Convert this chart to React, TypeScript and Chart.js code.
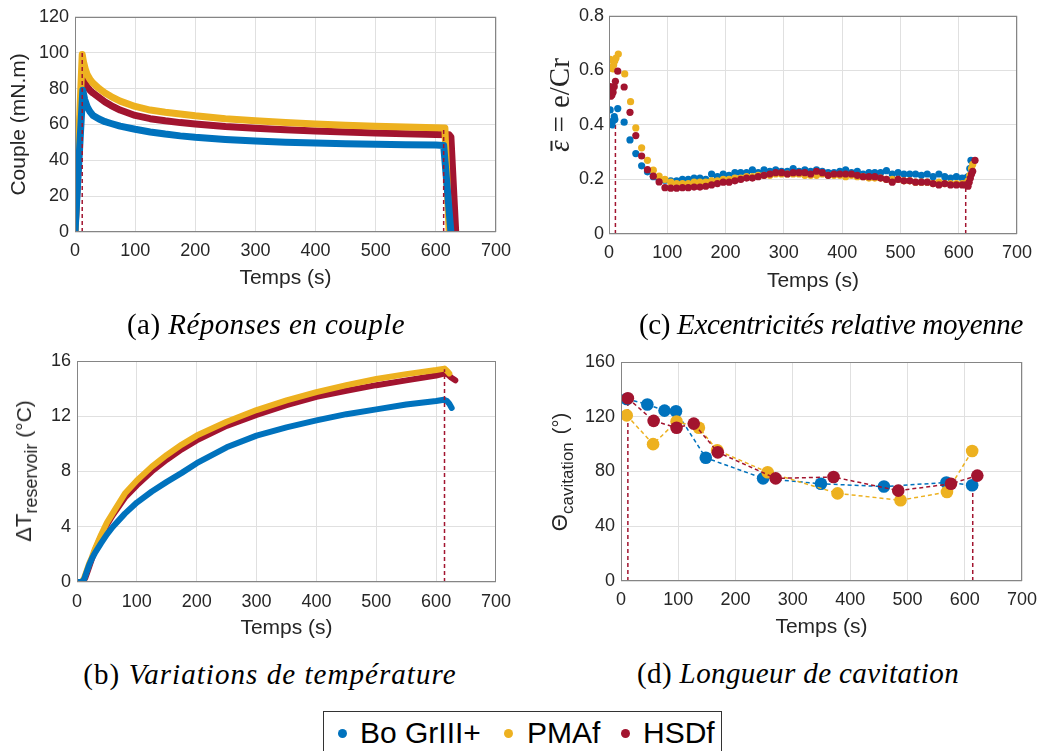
import React, { useEffect, useRef } from "react";
import { Chart, registerables } from "chart.js";

Chart.register(...registerables);

// ---------- series / styling ----------
const SERIES = ["Bo GrIII+", "PMAf", "HSDf"];
const BLUE = "#0072BD";
const YELLOW = "#EDB120";
const RED = "#A2142F";
const COLORS = [BLUE, YELLOW, RED];

// ---------- (a) couple ----------
const aBoT = [0, 13, 16, 20, 25, 30, 40, 50, 60, 75, 100, 125, 150, 175, 200, 250, 300, 350, 400, 450, 500, 550, 600, 613, 625];
const aBoV = [0, 79, 74, 70, 67, 65, 63, 61.5, 60.5, 59, 57.3, 55.8, 54.6, 53.6, 52.8, 51.6, 50.7, 50.1, 49.6, 49.2, 48.9, 48.7, 48.5, 48.3, 0];
const aPmT = [0, 12, 14, 17, 20, 25, 30, 40, 50, 60, 75, 100, 125, 150, 175, 200, 250, 300, 350, 400, 450, 500, 550, 600, 615, 622];
const aPmV = [0, 99, 95, 91, 88, 85, 83, 80, 77.5, 75.5, 73, 70, 68, 66.8, 65.8, 64.8, 63.2, 62, 61, 60.2, 59.5, 59, 58.6, 58.2, 58, 0];
const aHsT = [0, 12, 14, 17, 20, 25, 30, 40, 50, 60, 75, 100, 125, 150, 175, 200, 250, 300, 350, 400, 450, 500, 550, 600, 622, 625, 633];
const aHsV = [0, 86, 85, 83, 81, 79, 77.5, 75, 72.5, 70.5, 68, 65, 63.2, 62, 61, 60.2, 58.8, 57.8, 57, 56.3, 55.7, 55.2, 54.8, 54.4, 54.2, 53, 0];
const aMarkT = [12, 613];
const aMarkV = [100, 58];

// ---------- (b) temperature ----------
const bBoT = [0, 8, 12, 16, 20, 25, 30, 40, 50, 60, 80, 100, 125, 150, 175, 200, 250, 300, 350, 400, 450, 500, 550, 600, 613, 618, 622, 626];
const bBoV = [0, 0, 0.2, 0.7, 1.2, 1.7, 2.1, 2.8, 3.45, 4.0, 4.95, 5.75, 6.55, 7.25, 7.9, 8.6, 9.75, 10.6, 11.2, 11.7, 12.15, 12.5, 12.85, 13.1, 13.2, 13.1, 12.9, 12.6];
const bPmT = [0, 8, 12, 16, 20, 25, 30, 40, 50, 60, 80, 100, 125, 150, 175, 200, 250, 300, 350, 400, 450, 500, 550, 600, 614, 618, 622];
const bPmV = [0, 0, 0.3, 0.8, 1.3, 1.8, 2.4, 3.4, 4.3, 5.0, 6.4, 7.35, 8.35, 9.2, 9.95, 10.6, 11.6, 12.45, 13.15, 13.75, 14.25, 14.7, 15.05, 15.35, 15.45, 15.3, 15.1];
const bHsT = [0, 10, 14, 18, 22, 26, 30, 40, 50, 60, 80, 100, 125, 150, 175, 200, 250, 300, 350, 400, 450, 500, 550, 600, 615, 620, 625, 632];
const bHsV = [0, 0, 0.3, 0.8, 1.3, 1.8, 2.3, 3.3, 4.15, 4.85, 6.1, 7.0, 8.0, 8.85, 9.6, 10.25, 11.3, 12.1, 12.8, 13.4, 13.85, 14.25, 14.6, 14.95, 15.1, 15.0, 14.8, 14.6];
const bMarkT = [614];
const bMarkV = [15.4];

// ---------- (c) eccentricity ----------
const cMidT = [106, 116, 126, 136, 146, 156, 166, 176, 186, 196, 206, 216, 226, 236, 246, 256, 266, 276, 286, 296, 306, 316, 326, 336, 346, 356, 366, 376, 386, 396, 406, 416, 426, 436, 446, 456, 466, 476, 486, 496, 506, 516, 526, 536, 546, 556, 566, 576, 586, 596, 606];
const cBoT = [2, 4, 5, 7, 9, 10, 15, 26, 36, 46, 56, 66, 76, 86, 96, ...cMidT, 612, 616, 619, 621];
const cBoV = [0.455, 0.41, 0.40, 0.415, 0.43, 0.42, 0.46, 0.41, 0.345, 0.295, 0.25, 0.228, 0.21, 0.20, 0.197,
  0.195, 0.195, 0.2, 0.2, 0.205, 0.205, 0.2, 0.22, 0.21, 0.22,
  0.215, 0.225, 0.225, 0.225, 0.235, 0.225, 0.235, 0.23, 0.235, 0.23,
  0.23, 0.24, 0.23, 0.235, 0.23, 0.235, 0.23, 0.225, 0.225, 0.23,
  0.235, 0.225, 0.23, 0.22, 0.225, 0.225, 0.225, 0.232, 0.22, 0.225,
  0.22, 0.22, 0.22, 0.215, 0.22, 0.21, 0.22, 0.21, 0.205, 0.21,
  0.205, 0.205, 0.21, 0.24, 0.27];
const cPmT = [2, 4, 6, 8, 10, 12, 16, 27, 37, 46, 56, 66, 76, 86, 96, ...cMidT, 612, 616, 619, 622, 624];
const cPmV = [0.64, 0.61, 0.605, 0.62, 0.635, 0.645, 0.66, 0.587, 0.485, 0.389, 0.316, 0.27, 0.234, 0.212, 0.2,
  0.19, 0.185, 0.185, 0.185, 0.19, 0.19, 0.19, 0.195, 0.195, 0.2,
  0.2, 0.205, 0.205, 0.21, 0.21, 0.215, 0.215, 0.215, 0.22, 0.22,
  0.22, 0.22, 0.22, 0.215, 0.215, 0.215, 0.22, 0.215, 0.215, 0.215,
  0.21, 0.215, 0.21, 0.21, 0.205, 0.205, 0.205, 0.2, 0.2, 0.2,
  0.195, 0.195, 0.19, 0.19, 0.19, 0.185, 0.19, 0.185, 0.185, 0.185,
  0.185, 0.185, 0.195, 0.215, 0.24, 0.255];
const cHsT = [2, 3, 5, 7, 9, 11, 15, 26, 36, 46, 56, 66, 76, 86, 96, ...cMidT, 612, 616, 618, 620, 622, 624, 628];
const cHsV = [0.54, 0.505, 0.51, 0.52, 0.54, 0.56, 0.597, 0.539, 0.446, 0.361, 0.286, 0.236, 0.212, 0.191, 0.17,
  0.168, 0.168, 0.17, 0.17, 0.172, 0.172, 0.175, 0.18, 0.185, 0.19,
  0.19, 0.195, 0.2, 0.205, 0.205, 0.21, 0.215, 0.22, 0.225, 0.225,
  0.22, 0.225, 0.225, 0.225, 0.22, 0.23, 0.225, 0.215, 0.22, 0.22,
  0.22, 0.22, 0.215, 0.21, 0.21, 0.21, 0.205, 0.2, 0.19, 0.2,
  0.195, 0.195, 0.19, 0.19, 0.19, 0.185, 0.18, 0.185, 0.18, 0.18,
  0.18, 0.18, 0.175, 0.19, 0.205, 0.22, 0.23, 0.27];
const cMarkT = [11, 612];
const cMarkV = [0.41, 0.175];

// ---------- (d) cavitation ----------
const dBoT = [10, 46, 76, 96, 148, 248, 349, 459, 568, 613];
const dBoV = [133, 129, 124.5, 124, 90, 75, 71, 69, 72, 70];
const dPmT = [10, 56, 97, 136, 168, 256, 378, 488, 569, 613];
const dPmV = [121, 100, 116.5, 112, 95.5, 79.5, 64, 59, 65, 95];
const dHsT = [12, 57, 97, 127, 169, 270, 371, 484, 576, 622];
const dHsV = [133.5, 117, 112, 115, 94, 75, 76, 66, 71, 77];
const dMarkT = [12, 614];
const dMarkV = [133, 70];

// ---------- texts ----------
const X_TITLE = "Temps (s)";
const A_Y_TITLE = "Couple (mN.m)";
const CAPTIONS = [
  ["(a)", "Réponses en couple"],
  ["(b)", "Variations de température"],
  ["(c)", "Excentricités relative moyenne"],
  ["(d)", "Longueur de cavitation"],
];

// ---------- helpers ----------
const SANS = "'Liberation Sans', Arial, Helvetica, sans-serif";
const SERIF = "'Liberation Serif', 'Times New Roman', serif";
const TXT = "#262626";
const GRID = "#e0e0e0";
const tickFont = { family: SANS, size: 18 };
const titleFont = { family: SANS, size: 21 };

const pts = (t: number[], v: number[]) => t.map((x, i) => ({ x, y: v[i] }));

const boxPlugin = {
  id: "axesBox",
  afterDatasetsDraw(chart: any) {
    const { ctx, chartArea } = chart;
    const l = Math.round(chartArea.left) + 0.5;
    const t = Math.round(chartArea.top) + 0.5;
    const r = Math.round(chartArea.right) - 0.5;
    const b = Math.round(chartArea.bottom) - 0.5;
    ctx.save();
    ctx.strokeStyle = "#858585";
    ctx.lineWidth = 1;
    ctx.strokeRect(l, t, r - l, b - t);
    ctx.restore();
  },
};

function xAxis(h: number, tickPad: number, titlePad: number) {
  return {
    type: "linear",
    min: 0,
    max: 700,
    afterFit: (s: any) => {
      s.height = h;
    },
    grid: { color: GRID, drawTicks: false },
    border: { display: false },
    ticks: { stepSize: 100, font: tickFont, color: TXT, padding: tickPad, maxRotation: 0, autoSkip: false },
    title: { display: true, text: X_TITLE, font: titleFont, color: TXT, padding: { top: 0, bottom: titlePad } },
  };
}

function yAxis(w: number, max: number, step: number, tickPad: number, title?: string) {
  return {
    type: "linear",
    min: 0,
    max,
    afterFit: (s: any) => {
      s.width = w;
    },
    grid: { color: GRID, drawTicks: false },
    border: { display: false },
    ticks: { stepSize: step, font: tickFont, color: TXT, padding: tickPad, autoSkip: false },
    title: title
      ? { display: true, text: title, font: titleFont, color: TXT, padding: { top: 7, bottom: 0 } }
      : { display: false },
  };
}

function thickLine(i: number, t: number[], v: number[], width: number, order: number) {
  return {
    label: SERIES[i],
    data: pts(t, v),
    showLine: true,
    borderColor: COLORS[i],
    backgroundColor: COLORS[i],
    borderWidth: width,
    borderCapStyle: "round",
    borderJoinStyle: "round",
    pointRadius: 0,
    order,
  };
}

function dotSeries(i: number, t: number[], v: number[], radius: number, order: number, dashed: boolean) {
  return {
    label: SERIES[i],
    data: pts(t, v),
    showLine: dashed,
    borderColor: COLORS[i],
    backgroundColor: COLORS[i],
    borderWidth: 1.5,
    borderDash: [4, 3],
    pointRadius: radius,
    pointBorderWidth: 0,
    pointBackgroundColor: COLORS[i],
    order,
  };
}

function markLines(t: number[], v: number[], order: number) {
  return t.map((x, i) => ({
    label: "marker",
    data: [
      { x, y: 0 },
      { x, y: v[i] },
    ],
    showLine: true,
    borderColor: RED,
    borderWidth: 1.5,
    borderDash: [4, 3],
    pointRadius: 0,
    order,
  }));
}

function makeChart(canvas: HTMLCanvasElement, datasets: any[], x: any, y: any, padding: any) {
  return new Chart(canvas, {
    type: "scatter",
    data: { datasets },
    options: {
      animation: false,
      responsive: false,
      maintainAspectRatio: false,
      events: [],
      layout: { padding },
      plugins: { legend: { display: false }, tooltip: { enabled: false } },
      scales: { x, y },
    } as any,
    plugins: [boxPlugin],
  } as any);
}

function Caption({ cx, baseline, tag, text, spacing }: { cx: number; baseline: number; tag: string; text: string; spacing: number }) {
  const size = 29;
  return (
    <div
      style={{
        position: "absolute",
        left: cx - 300,
        width: 600,
        top: baseline - 0.8375 * size,
        textAlign: "center",
        fontFamily: SERIF,
        fontSize: size,
        lineHeight: 1,
        letterSpacing: spacing,
        whiteSpace: "nowrap",
        color: "#000",
      }}
    >
      {tag} <span style={{ fontStyle: "italic" }}>{text}</span>
    </div>
  );
}

function RotLabel({ cx, cy, children, family, size }: any) {
  return (
    <div
      style={{
        position: "absolute",
        left: cx,
        top: cy,
        transform: "translate(-50%, -50%) rotate(-90deg)",
        whiteSpace: "nowrap",
        lineHeight: 1,
        fontFamily: family,
        fontSize: size,
        color: TXT,
      }}
    >
      {children}
    </div>
  );
}

export default function App() {
  const ra = useRef<HTMLCanvasElement>(null);
  const rb = useRef<HTMLCanvasElement>(null);
  const rc = useRef<HTMLCanvasElement>(null);
  const rd = useRef<HTMLCanvasElement>(null);

  useEffect(() => {
    const charts: Chart[] = [];
    charts.push(
      makeChart(
        ra.current!,
        [
          thickLine(0, aBoT, aBoV, 7, 1),
          thickLine(1, aPmT, aPmV, 7, 2),
          thickLine(2, aHsT, aHsV, 7, 3),
          ...markLines(aMarkT, aMarkV, 0),
        ],
        xAxis(68, 8, 9),
        yAxis(75, 120, 20, 6, A_Y_TITLE),
        { left: 0, right: 24, top: 14, bottom: 0 }
      )
    );
    charts.push(
      makeChart(
        rb.current!,
        [
          thickLine(0, bBoT, bBoV, 6, 1),
          thickLine(1, bPmT, bPmV, 6, 2),
          thickLine(2, bHsT, bHsV, 6, 3),
          ...markLines(bMarkT, bMarkV, 0),
        ],
        xAxis(63, 9, 4),
        yAxis(77, 16, 4, 6),
        { left: 0, right: 19, top: 21, bottom: 0 }
      )
    );
    charts.push(
      makeChart(
        rc.current!,
        [
          dotSeries(0, cBoT, cBoV, 3.6, 3, false),
          dotSeries(1, cPmT, cPmV, 3.6, 2, false),
          dotSeries(2, cHsT, cHsV, 3.6, 1, false),
          ...markLines(cMarkT, cMarkV, 4),
        ],
        xAxis(66, 8, 6),
        yAxis(89, 0.8, 0.2, 5),
        { left: 0, right: 47, top: 14, bottom: 0 }
      )
    );
    charts.push(
      makeChart(
        rd.current!,
        [
          dotSeries(0, dBoT, dBoV, 6.3, 3, true),
          dotSeries(1, dPmT, dPmV, 6.3, 2, true),
          dotSeries(2, dHsT, dHsV, 6.3, 1, true),
          ...markLines(dMarkT, dMarkV, 4),
        ],
        xAxis(64, 8, 5),
        yAxis(101, 160, 40, 6),
        { left: 0, right: 42, top: 22, bottom: 0 }
      )
    );
    return () => charts.forEach((c) => c.destroy());
  }, []);

  const cv = (left: number, top: number, w: number, h: number) => ({
    position: "absolute" as const,
    left,
    top,
    width: w,
    height: h,
  });

  return (
    <div
      style={{
        position: "absolute",
        left: 0,
        top: 0,
        width: 1064,
        height: 751,
        overflow: "hidden",
        background: "#fff",
      }}
    >
      <canvas ref={ra} width={520} height={300} style={cv(0, 0, 520, 300)} />
      <canvas ref={rc} width={544} height={300} style={cv(520, 0, 544, 300)} />
      <canvas ref={rb} width={520} height={305} style={cv(0, 340, 520, 305)} />
      <canvas ref={rd} width={544} height={305} style={cv(520, 340, 544, 305)} />

      {/* y titles with math / subscripts */}
      <RotLabel cx={559} cy={105} family={SERIF} size={29}>
        <span style={{ position: "relative", display: "inline-block", fontStyle: "italic" }}>
          {"\u03B5"}
          <span
            style={{
              position: "absolute",
              left: 1,
              right: 0,
              top: 6,
              height: 1.5,
              background: TXT,
            }}
          />
        </span>
        <span style={{ margin: "0 8px" }}>=</span>
        <span>e/Cr</span>
      </RotLabel>
      <RotLabel cx={24} cy={471} family={SANS} size={22}>
        <span style={{ fontSize: 22 }}>ΔT</span>
        <span style={{ fontSize: 18, position: "relative", top: 6 }}>reservoir</span>
        <span style={{ fontSize: 21 }}> (°C)</span>
      </RotLabel>
      <RotLabel cx={560} cy={472} family={SANS} size={22}>
        <span style={{ fontSize: 22 }}>Θ</span>
        <span style={{ fontSize: 17, position: "relative", top: 6 }}>cavitation</span>
        <span style={{ fontSize: 20, marginLeft: 8 }}>(°)</span>
      </RotLabel>

      {/* captions */}
      <Caption cx={266} baseline={334} tag={CAPTIONS[0][0]} text={CAPTIONS[0][1]} spacing={0.45} />
      <Caption cx={270} baseline={684} tag={CAPTIONS[1][0]} text={CAPTIONS[1][1]} spacing={1.05} />
      <Caption cx={831} baseline={334} tag={CAPTIONS[2][0]} text={CAPTIONS[2][1]} spacing={-0.35} />
      <Caption cx={798} baseline={683} tag={CAPTIONS[3][0]} text={CAPTIONS[3][1]} spacing={0.4} />

      {/* shared legend */}
      <div
        style={{
          position: "absolute",
          left: 323,
          top: 711,
          width: 399,
          height: 60,
          boxSizing: "border-box",
          border: "1px solid #333",
          background: "#fff",
          fontFamily: SANS,
          fontSize: 30,
          lineHeight: 1,
          color: "#000",
        }}
      >
        {SERIES.map((name, i) => {
          const dotX = [18, 184, 301][i];
          const textX = [36, 203, 319][i];
          return (
            <React.Fragment key={name}>
              <div
                style={{
                  position: "absolute",
                  left: dotX - 4.5,
                  top: 16.5,
                  width: 9,
                  height: 9,
                  borderRadius: "50%",
                  background: COLORS[i],
                }}
              />
              <div style={{ position: "absolute", left: textX, top: 5.6, whiteSpace: "nowrap" }}>{name}</div>
            </React.Fragment>
          );
        })}
      </div>
    </div>
  );
}
